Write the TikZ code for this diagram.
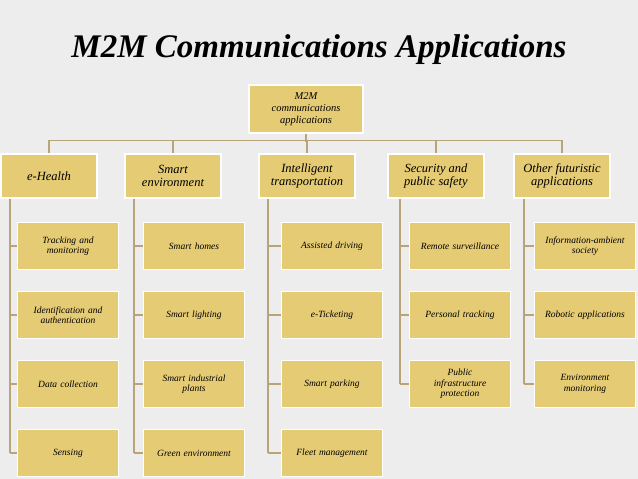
\documentclass[tikz,border=0pt]{standalone}
\usepackage{fontspec}
\setmainfont{Liberation Serif}
\usetikzlibrary{backgrounds}
\definecolor{boxfill}{HTML}{E6CB75}
\definecolor{linetan}{HTML}{B9A47A}
\definecolor{bgcol}{HTML}{EDEDED}
\begin{document}
\begin{tikzpicture}[x=1pt, y=-1pt,
  cat node/.style={rectangle, fill=boxfill, draw=white, line width=1.2pt, minimum width=96pt, minimum height=44pt, align=center, font=\itshape\fontsize{12.5}{13.5}\selectfont},
  leaf node/.style={cat node, minimum width=96pt, minimum height=47pt, text width=94pt, font=\itshape\fontsize{9.5}{10.5}\selectfont},
  link/.style={draw=linetan, line width=1.8pt}]
  \node[font=\bfseries\itshape\fontsize{33}{36}\selectfont] (title) at (319,50) {M2M Communications Applications};

  \node[cat node, minimum width=114pt, minimum height=48pt, font=\itshape\fontsize{10.5}{12}\selectfont] (root) at (306,109) {M2M\\communications\\applications};

  \node[cat node] (health) at (49,176) {e-Health};
  \node[cat node] (env) at (173,176) {Smart\\environment};
  \node[cat node] (trans) at (307,176) {Intelligent\\transportation};
  \node[cat node] (safe) at (436,176) {Security and\\public safety};
  \node[cat node] (other) at (562,176) {Other futuristic\\applications};

  % leaves
  \node[leaf node] (h1) at (68,246) {Tracking and\\monitoring};
  \node[leaf node] (h2) at (68,315) {Identification and\\authentication};
  \node[leaf node] (h3) at (68,384) {Data collection};
  \node[leaf node] (h4) at (68,453) {Sensing};
  \node[leaf node] (e1) at (194,246) {Smart homes};
  \node[leaf node] (e2) at (194,315) {Smart lighting};
  \node[leaf node] (e3) at (194,384) {Smart industrial\\plants};
  \node[leaf node] (e4) at (194,453) {Green environment};
  \node[leaf node] (t1) at (332,246) {Assisted driving};
  \node[leaf node] (t2) at (332,315) {e-Ticketing};
  \node[leaf node] (t3) at (332,384) {Smart parking};
  \node[leaf node] (t4) at (332,453) {Fleet management};
  \node[leaf node] (s1) at (460,246) {Remote surveillance};
  \node[leaf node] (s2) at (460,315) {Personal tracking};
  \node[leaf node] (s3) at (460,384) {Public\\infrastructure\\protection};
  \node[leaf node] (o1) at (585,246) {Information-ambient\\society};
  \node[leaf node] (o2) at (585,315) {Robotic applications};
  \node[leaf node] (o3) at (585,384) {Environment\\monitoring};

  % tree links
  \begin{scope}[on background layer]
  \fill[bgcol] (0,0) rectangle (638,479);
  \coordinate (bus) at (306,142);
  \path[link] (root.south) -- (bus);
  \foreach \c in {health,env,trans,safe,other}
    \path[link] (\c.north) -- ++(0,-13) -| (bus);
  \path[link] (10,198) -- (10,453);
  \path[link] (134,198) -- (134,453);
  \path[link] (268,198) -- (268,453);
  \path[link] (400,198) -- (400,384);
  \path[link] (524,198) -- (524,384);
  \foreach \x/\c in {10/h, 134/e, 268/t} {
    \foreach \i in {1,...,4}
      \path[link] (\x,0 |- \c\i.west) -- (\c\i.west);
  }
  \foreach \x/\c in {400/s, 524/o} {
    \foreach \i in {1,...,3}
      \path[link] (\x,0 |- \c\i.west) -- (\c\i.west);
  }
  \end{scope}
\end{tikzpicture}
\end{document}
